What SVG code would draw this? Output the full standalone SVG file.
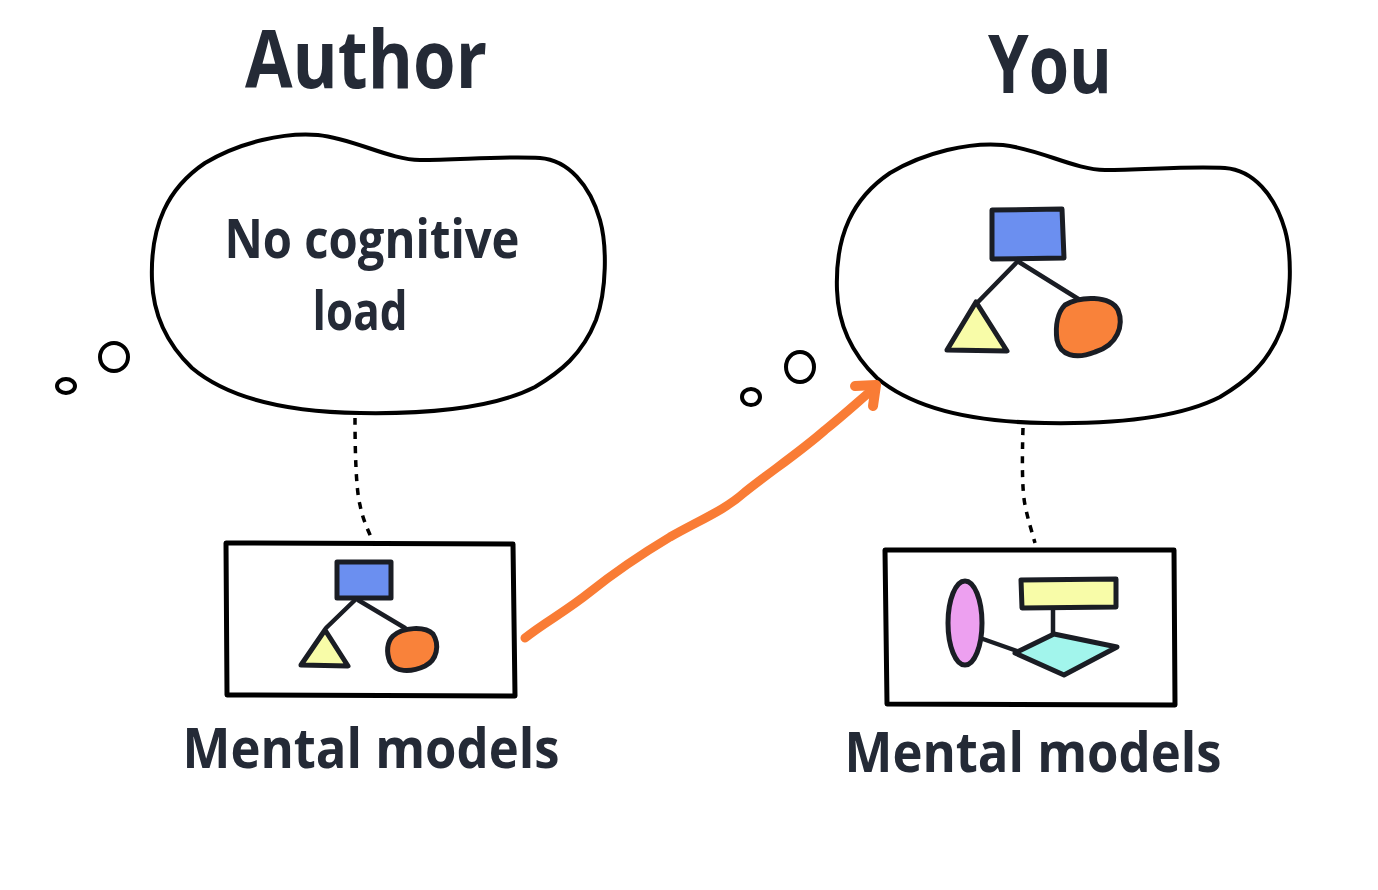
<svg xmlns="http://www.w3.org/2000/svg" width="1378" height="890" viewBox="0 0 1378 890">
<style>
.t{font-family:"Open Sans","Liberation Sans",sans-serif;font-weight:700;fill:#242a36;text-anchor:middle}
.ink{fill:#fff;stroke:#000;stroke-width:4;stroke-linejoin:round;stroke-linecap:round}
.box{fill:#fff;stroke:#000;stroke-width:5;stroke-linejoin:round}
.sh{stroke:#1a1d24;stroke-width:5;stroke-linejoin:round;stroke-linecap:round}
.ln{fill:none;stroke:#1a1d24;stroke-width:4.5;stroke-linecap:round}
.dot{fill:none;stroke:#000;stroke-width:3.5;stroke-dasharray:7 7}
</style>
<defs>
<path id="cloud" d="M152 280 C150 225 168 188 205 163 C240 142 285 132 318 135 C355 139 390 160 420 160 C460 160 500 156 540 158 C568 160 590 185 600 220 C607 245 607 290 596 320 C582 355 560 372 535 387 C490 410 420 414 360 413 C290 412 230 400 192 368 C165 342 153 312 152 280 Z"/>
</defs>
<rect width="1378" height="890" fill="#fff"/>

<g id="title-author"><text class="t" x="366" y="88" font-size="80" textLength="242" lengthAdjust="spacingAndGlyphs">Author</text></g>
<g id="title-you"><text class="t" x="1050" y="93" font-size="80" textLength="124" lengthAdjust="spacingAndGlyphs">You</text></g>

<g id="author-thought">
<use href="#cloud" class="ink"/>
<ellipse cx="114" cy="357" rx="14" ry="14" class="ink" style="fill:none"/>
<ellipse cx="66" cy="386" rx="9" ry="7" class="ink" style="fill:none"/>
<text class="t" x="372" y="258" font-size="53" textLength="295" lengthAdjust="spacingAndGlyphs">No cognitive</text>
<text class="t" x="360" y="330" font-size="53" textLength="95" lengthAdjust="spacingAndGlyphs">load</text>
</g>

<g id="you-thought">
<use href="#cloud" transform="translate(685 10)" class="ink"/>
<ellipse cx="800" cy="367" rx="14" ry="15" class="ink" style="fill:none"/>
<ellipse cx="751" cy="397" rx="9" ry="8" class="ink" style="fill:none"/>
<line x1="1017" y1="262" x2="978" y2="302" class="ln"/>
<line x1="1019" y1="262" x2="1080" y2="300" class="ln"/>
<path d="M992 210 L1062 209 L1064 258 L992 259 Z" fill="#6b8ff0" class="sh"/>
<path d="M976 302 L1007 351 L947 350 Z" fill="#f8fca8" class="sh"/>
<path d="M1065 305 C1080 296 1110 295 1118 310 C1124 325 1118 345 1095 352 C1075 360 1060 355 1057 340 C1055 325 1058 312 1065 305 Z" fill="#f9823a" class="sh"/>
</g>

<g id="author-models">
<path d="M226 543 L513 544 L515 696 L227 695 Z" class="box"/>
<line x1="355" y1="600" x2="326" y2="628" class="ln"/>
<line x1="358" y1="600" x2="405" y2="628" class="ln"/>
<path d="M337 562 L391 562 L391 598 L337 598 Z" fill="#6b8ff0" class="sh"/>
<path d="M325 630 L348 666 L301 665 Z" fill="#f8fca8" class="sh"/>
<path d="M393 636 C403 627 425 626 433 634 C440 645 437 660 425 666 C410 673 395 672 390 662 C386 652 387 642 393 636 Z" fill="#f9823a" class="sh"/>
<text class="t" x="371" y="768" font-size="56" textLength="377" lengthAdjust="spacingAndGlyphs">Mental models</text>
</g>

<g id="you-models">
<path d="M885 550 L1174 550 L1175 705 L887 704 Z" class="box"/>
<line x1="983" y1="639" x2="1017" y2="651" class="ln"/>
<line x1="1053" y1="608" x2="1053" y2="634" class="ln"/>
<ellipse cx="965" cy="623" rx="17" ry="42" fill="#eda0f0" class="sh"/>
<path d="M1021 580 L1116 579 L1116 607 L1022 608 Z" fill="#f8fca8" class="sh"/>
<path d="M1015 653 L1054 634 L1117 647 L1064 675 Z" fill="#a2f5ec" class="sh"/>
<text class="t" x="1033" y="772" font-size="56" textLength="377" lengthAdjust="spacingAndGlyphs">Mental models</text>
</g>

<g id="connectors">
<path d="M355 418 C355 450 356 490 360 505 C363 520 368 530 371 537" class="dot"/>
<path d="M1023 428 C1022 460 1022 490 1025 505 C1028 520 1032 532 1035 543" class="dot"/>
<path d="M525 638 C545 622 565 612 590 592 C615 572 640 555 670 537 C700 520 725 510 745 492 C770 472 800 452 825 430 C845 414 860 400 872 390" fill="none" stroke="#f97c35" stroke-width="9" stroke-linecap="round" stroke-linejoin="round"/>
<path d="M855 386 L876 385 L873 406" fill="none" stroke="#f97c35" stroke-width="10" stroke-linecap="round" stroke-linejoin="round"/>
</g>
</svg>
